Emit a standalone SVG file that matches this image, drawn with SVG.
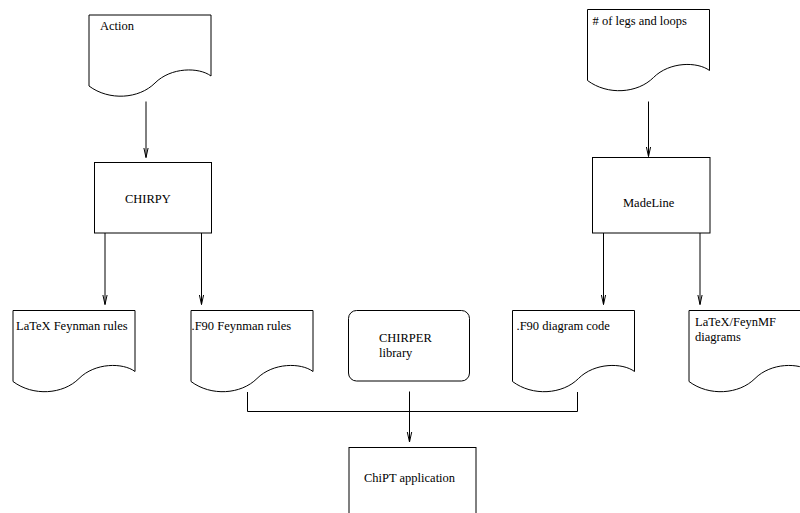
<svg xmlns="http://www.w3.org/2000/svg" width="800" height="513" viewBox="0 0 800 513">
<style>
.s{fill:#fff;stroke:#000;stroke-width:1}
.c{fill:none;stroke:#000;stroke-width:1}
text{font-family:"Liberation Serif","Times New Roman",serif;font-size:12.5px;fill:#000}
</style>
<defs>
<path id="doc" d="M0,0 H122 V61 C110,52 82,52 66,68 C50,84 20,86 0,71 Z"/>
<marker id="ah" viewBox="0 0 10 10" refX="10" refY="5" markerWidth="10" markerHeight="10" markerUnits="userSpaceOnUse" orient="auto">
<path d="M0,2.8 L10,5 L0,7.2" fill="none" stroke="#000" stroke-width="1"/>
</marker>
</defs>
<rect width="800" height="513" fill="#fff"/>
<g id="connectors" class="c">
<line x1="146" y1="101.5" x2="146" y2="157.5" marker-end="url(#ah)"/>
<line x1="648.5" y1="101.5" x2="648.5" y2="156.5" marker-end="url(#ah)"/>
<line x1="105" y1="233" x2="105" y2="304.5" marker-end="url(#ah)"/>
<line x1="201.5" y1="233" x2="201.5" y2="304.5" marker-end="url(#ah)"/>
<line x1="603.5" y1="233" x2="603.5" y2="304.5" marker-end="url(#ah)"/>
<line x1="700" y1="233" x2="700" y2="304.5" marker-end="url(#ah)"/>
<path d="M247.5,392 V411.5 H577.5 V392"/>
<line x1="409.5" y1="391.5" x2="409.5" y2="442" marker-end="url(#ah)"/>
</g>
<g id="action">
<use href="#doc" class="s" x="89" y="15"/>
<text x="100" y="29.5">Action</text>
</g>
<g id="legs">
<use href="#doc" class="s" x="587.5" y="9.5"/>
<text x="592.5" y="25">&#35; of legs and loops</text>
</g>
<g id="chirpy">
<rect class="s" x="94.5" y="162.5" width="117" height="70.5"/>
<text x="125" y="203">CHIRPY</text>
</g>
<g id="madeline">
<rect class="s" x="592.5" y="157.5" width="117.5" height="75.5"/>
<text x="623" y="206.5">MadeLine</text>
</g>
<g id="latex-rules">
<use href="#doc" class="s" x="13" y="310.5"/>
<text x="16" y="330">LaTeX Feynman rules</text>
</g>
<g id="f90-rules">
<use href="#doc" class="s" x="191" y="310.5"/>
<text x="191.5" y="330">.F90 Feynman rules</text>
</g>
<g id="chirper">
<rect class="s" x="348.5" y="310.5" width="121" height="70.5" rx="8" ry="8"/>
<text x="379" y="341.5">CHIRPER</text>
<text x="379" y="356.5">library</text>
</g>
<g id="f90-diagram">
<use href="#doc" class="s" x="512.5" y="310.5"/>
<text x="516.5" y="330">.F90 diagram code</text>
</g>
<g id="latex-feynmf">
<use href="#doc" class="s" x="689" y="310.5"/>
<text x="695" y="326">LaTeX/FeynMF</text>
<text x="695" y="341">diagrams</text>
</g>
<g id="chipt">
<rect class="s" x="349" y="447.5" width="127" height="75"/>
<text x="364" y="482">ChiPT application</text>
</g>
</svg>
